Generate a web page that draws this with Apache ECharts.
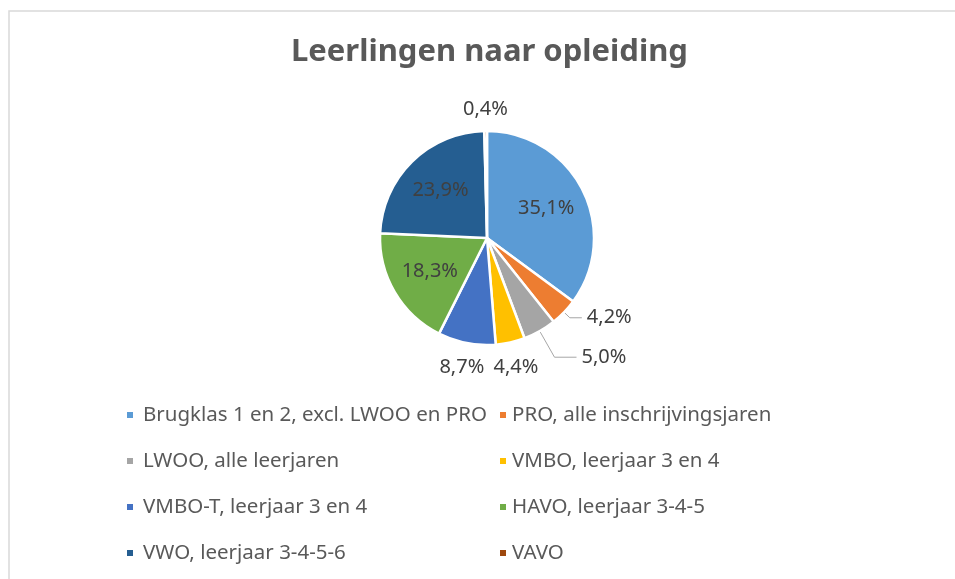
<!DOCTYPE html>
<html><head><meta charset="utf-8">
<script src="https://cdn.jsdelivr.net/npm/echarts@6/dist/echarts.min.js"></script>
<style>html,body{margin:0;padding:0;background:#fff}#c{width:955px;height:579px}</style>
</head><body><div id="c"></div>
<script>
const categories = ["Brugklas 1 en 2, excl. LWOO en PRO","PRO, alle inschrijvingsjaren","LWOO, alle leerjaren","VMBO, leerjaar 3 en 4","VMBO-T, leerjaar 3 en 4","HAVO, leerjaar 3-4-5","VWO, leerjaar 3-4-5-6","VAVO"];
const values = [35.1, 4.2, 5.0, 4.4, 8.7, 18.3, 23.9, 0.4];
const colors = ["#5B9BD5","#ED7D31","#A5A5A5","#FFC000","#4472C4","#70AD47","#255E91","#9E480E"];
const leftLegend = [categories[0],categories[2],categories[4],categories[6]];
const rightLegend = [categories[1],categories[3],categories[5],categories[7]];
// label placement mode per slice: inside / line (outside with leader) / near (outside, no leader)
const labelMode = ['inside','line','line','near','near','inside','inside','near'];
const lineLen = [0, 8, 30, 0, 0, 0, 0, 0];
const lineLen2 = [0, 12, 22, 0, 0, 0, 0, 0];

const CX = 487, CY = 238, R = 107;
const FONT = "'Noto Sans', sans-serif";
const total = values.reduce((a,b)=>a+b,0);
const fmt = v => v.toFixed(1).replace('.', ',') + '%';
function midAngle(i){
  let s = 0; for (let j=0;j<i;j++) s += values[j];
  s += values[i]/2; return s/total*2*Math.PI;
}
const data = categories.map((n,i)=>({
  name:n, value:values[i], itemStyle:{color:colors[i]},
  label:{position: labelMode[i]==='inside' ? 'inside' : 'outside'},
  labelLine:{show: labelMode[i]==='line', length: lineLen[i], length2: lineLen2[i]}
}));
const chart = echarts.init(document.getElementById('c'));
const legendBase = {orient:'vertical', itemWidth:8, itemHeight:8, icon:'rect', itemGap:22, padding:0, selectedMode:false};
chart.setOption({
  animation:false,
  graphic:[{type:'rect', shape:{x:9, y:11, width:960, height:600}, style:{fill:'none', stroke:'#d9d9d9', lineWidth:1.5}}],
  title:{text:'Leerlingen naar opleiding', left:291, top:37, padding:0,
    textStyle:{color:'#595959', fontSize:31, fontWeight:'bold', fontFamily:FONT}},
  legend:[
    Object.assign({data:leftLegend, left:125, top:403,
      textStyle:{color:'#595959', fontSize:20.5, lineHeight:24, fontFamily:FONT, padding:[0,0,0,4]}}, legendBase),
    Object.assign({data:rightLegend, left:498, top:403,
      textStyle:{color:'#595959', fontSize:20.5, lineHeight:24, fontFamily:FONT}}, legendBase)
  ],
  series:[{
    type:'pie', center:[CX,CY], radius:[0,R], startAngle:90, clockwise:true,
    avoidLabelOverlap:false,
    itemStyle:{borderColor:'#fff', borderWidth:2.5},
    label:{show:true, formatter:p=>fmt(p.value), color:'#404040', fontSize:20, lineHeight:24, fontFamily:FONT},
    labelLine:{lineStyle:{color:'#a6a6a6', width:1}},
    labelLayout:function(p){
      const i = p.dataIndex, a = midAngle(i);
      const ux = Math.sin(a), uy = -Math.cos(a);
      if (labelMode[i]==='inside') {
        const d = 0.62*R;
        return {x: CX+ux*d, y: CY+uy*d, align:'center', verticalAlign:'middle'};
      }
      if (labelMode[i]==='near') {
        const w = p.labelRect.width, h = p.labelRect.height;
        const d = R + 9 + Math.abs(ux)*w/2 + Math.abs(uy)*h/2;
        return {x: CX+ux*d, y: CY+uy*d, align:'center', verticalAlign:'middle'};
      }
    },
    data:data
  }]
});
</script></body></html>
